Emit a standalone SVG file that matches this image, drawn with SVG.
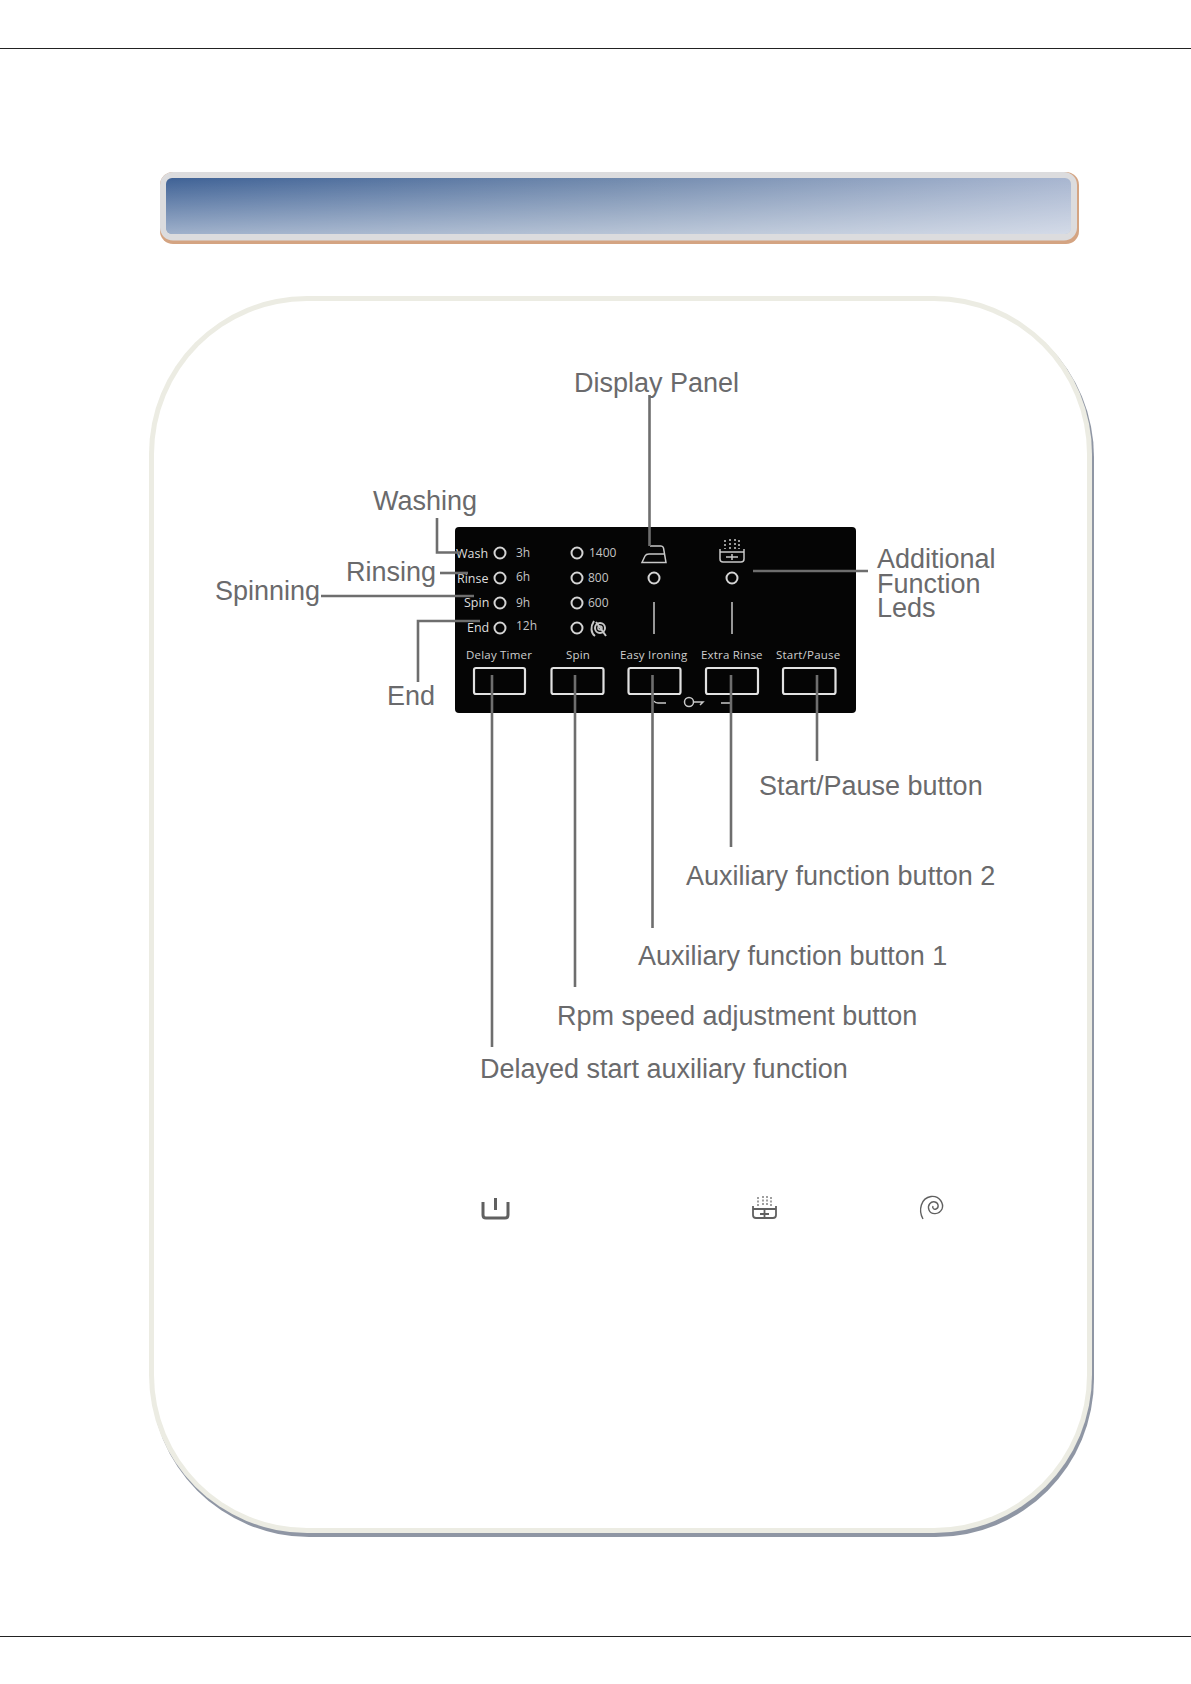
<svg xmlns="http://www.w3.org/2000/svg" width="1191" height="1684" viewBox="0 0 1191 1684">
<style>
.lbl{font-family:"Liberation Sans",Arial,sans-serif;font-size:27px;fill:#6a6a6c}
.p{font-family:"Open Sans","Liberation Sans",sans-serif;fill:#cfcfcf;font-size:11.500px;letter-spacing:.2px}
.b{font-family:"Open Sans","Liberation Sans",sans-serif;fill:#dedede;font-size:12.500px}
.n{font-family:"Open Sans","Liberation Sans",sans-serif;fill:#c4c4c4;font-size:12px}
.led{fill:none;stroke:#d4d4d4;stroke-width:2}
.btn{fill:none;stroke:#e2e2e2;stroke-width:2.200}
.tick{stroke:#c8c8c8;stroke-width:1.500;fill:none}
.ld{stroke:#6e6e6e;stroke-width:2.600;fill:none}
.ic{stroke:#606060;stroke-width:2;fill:none}
</style>
<defs>
<linearGradient id="v" x1="0" y1="0" x2="0" y2="1"><stop offset="0" stop-color="#fff" stop-opacity="0"/><stop offset="1" stop-color="#fff" stop-opacity=".5"/></linearGradient>
<linearGradient id="h" x1="0" y1="0" x2="1" y2="0"><stop offset="0" stop-color="#3f6296"/><stop offset=".5" stop-color="#7089ad"/><stop offset="1" stop-color="#a8b6d0"/></linearGradient>
</defs>
<rect width="1191" height="1684" fill="#fff"/>
<g id="rules" stroke="#222" stroke-width="1"><path d="M0 48.500H1191M0 1636.500H1191"/></g>
<g id="banner">
<rect x="160" y="172" width="919" height="72" rx="13" fill="#d4a482"/>
<rect x="160" y="172" width="917" height="68.500" rx="13" fill="#dcdcde"/>
<rect x="166" y="178" width="905" height="56" rx="6" fill="url(#h)"/>
<rect x="166" y="178" width="905" height="56" rx="6" fill="url(#v)"/>
</g>
<g id="frame">
<rect x="151" y="299" width="943" height="1238" rx="158" fill="#8f96a4"/>
<rect x="149" y="296" width="943" height="1237" rx="158" fill="#ecece3"/>
<rect x="154" y="301" width="933" height="1227" rx="153" fill="#fff"/>
</g>
<g id="panel">
<rect x="455" y="527" width="401" height="186" rx="4" fill="#050505"/>
<g class="b"><text x="456" y="558">Wash</text><text x="457" y="583">Rinse</text><text x="464" y="607">Spin</text><text x="467" y="632">End</text></g>
<g class="led"><circle cx="500" cy="553" r="5.500"/><circle cx="500" cy="578" r="5.500"/><circle cx="500" cy="603" r="5.500"/><circle cx="500" cy="628" r="5.500"/><circle cx="577" cy="553" r="5.500"/><circle cx="577" cy="578" r="5.500"/><circle cx="577" cy="603" r="5.500"/><circle cx="577" cy="628" r="5.500"/><circle cx="654" cy="578" r="5.500"/><circle cx="732" cy="578" r="5.500"/></g>
<g class="n"><text x="516" y="557">3h</text><text x="516" y="581">6h</text><text x="516" y="607">9h</text><text x="516" y="630">12h</text><text x="589" y="557">1400</text><text x="588" y="582">800</text><text x="588" y="607">600</text></g>
<g class="tick"><circle cx="600" cy="628" r="5" stroke-width="2"/><circle cx="600" cy="628" r="2"/><path d="M594 621C590 627 591 633 595 636M596 622L606 636" stroke-width="2"/></g>
<path class="tick" stroke-width="2" d="M650 546H661Q663 546 663.500 548L666 562.500H642L645 556Q646 554 649 554H665"/>
<path class="tick" stroke-width="2" d="M720 549V559Q720 562 723 562H741Q744 562 744 559V549M720 552H744M726 557H738M732 554V560"/>
<path class="tick" stroke-dasharray="2 2" d="M725 540V549M730 539V549M735 539V549M739 540V549"/>
<path class="tick" d="M654 602V634M732 602V634"/>
<g class="p"><text x="466" y="659">Delay Timer</text><text x="566" y="659">Spin</text><text x="620" y="659">Easy Ironing</text><text x="701" y="659">Extra Rinse</text><text x="776" y="659">Start/Pause</text></g>
<g class="btn"><rect x="474" y="668" width="51" height="26" rx="2"/><rect x="551.500" y="668" width="52" height="26" rx="2"/><rect x="628.500" y="668" width="52" height="26" rx="2"/><rect x="706" y="668" width="52" height="26" rx="2"/><rect x="783" y="668" width="52.500" height="26" rx="2"/></g>
<g class="tick"><path d="M654 701Q655 703 658 703H666M721 703H731"/><circle cx="689" cy="702" r="4.500"/><path d="M693.500 702H703L700 705"/></g>
</g>
<g id="connectors" class="ld">
<path d="M649.500 395V546"/>
<path d="M437 518V552.500H460"/>
<path d="M440 573H468"/>
<path d="M321 596H474"/>
<path d="M418 682V621H480"/>
<path d="M753 571H868"/>
<path d="M492 675V1047"/>
<path d="M575 675V987"/>
<path d="M652.500 675V928"/>
<path d="M731 675V847"/>
<path d="M817 675V761"/>
</g>
<g id="labels" class="lbl">
<text x="574" y="392">Display Panel</text>
<text x="373" y="510">Washing</text>
<text x="346" y="581">Rinsing</text>
<text x="215" y="600">Spinning</text>
<text x="387" y="705">End</text>
<text x="877" y="568">Additional<tspan x="877" dy="24.500">Function</tspan><tspan x="877" dy="24.500">Leds</tspan></text>
<text x="759" y="795">Start/Pause button</text>
<text x="686" y="885">Auxiliary function button 2</text>
<text x="638" y="965">Auxiliary function button 1</text>
<text x="557" y="1025">Rpm speed adjustment button</text>
<text x="480" y="1078">Delayed start auxiliary function</text>
</g>
<g id="icons" class="ic">
<path d="M483 1202V1215Q483 1218 486 1218H505Q508 1218 508 1215V1202M495.500 1198V1210" stroke-width="3"/>
<path d="M753 1206V1215Q753 1218 756 1218H773Q776 1218 776 1215V1206M753 1209H776M760 1214H769M764.500 1210V1218" stroke-width="1.800"/>
<path d="M758 1197V1206M763 1196V1206M767 1196V1206M771 1197V1206" stroke-width="1.200" stroke-dasharray="2 1.500"/>
<path d="M923 1219C918 1210 921 1198 931 1196.500C940 1195.500 944 1204 942 1209C939 1215 931 1215 929 1210C927 1205 931 1201 935 1202C939 1203 939 1208 936 1209C934 1210 932 1208 933 1206" stroke-width="1.400"/>
</g>
</svg>
